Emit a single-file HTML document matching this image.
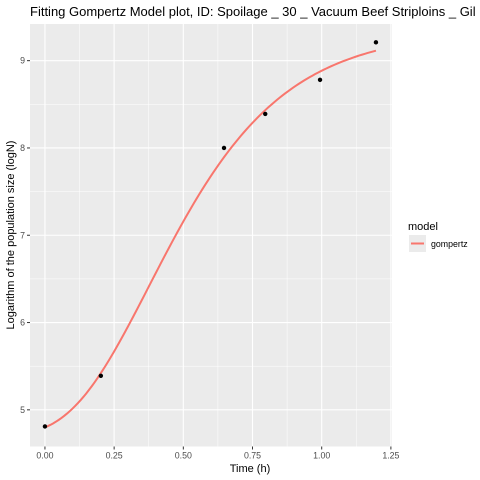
<!DOCTYPE html>
<html><head><meta charset="utf-8"><style>
body{margin:0;background:#fff;}
svg{display:block;font-family:"Liberation Sans",Arial,sans-serif;}
</style></head><body>
<svg id="chart" width="480" height="480">
<text x="30" y="16" font-size="13" fill="#000">Fitting Gompertz Model plot, ID: Spoilage _ 30 _ Vacuum Beef Striploins _ Gil</text>
<rect x="30" y="24" width="362" height="422.5" fill="#ebebeb"/>
<g id="grid"></g>
<g id="curve"></g>
<g id="points"></g>
<g id="axes"></g>
<text x="250" y="472" font-size="11" text-anchor="middle" fill="#000">Time (h)</text>
<text transform="translate(14,235) rotate(-90)" font-size="11" text-anchor="middle" fill="#000">Logarithm of the population size (logN)</text>
<g>
<text x="408" y="230" font-size="11" fill="#000">model</text>
<rect x="409" y="235" width="17" height="17" fill="#ebebeb"/>
<line x1="411" y1="243.5" x2="424" y2="243.5" stroke="#f8766d" stroke-width="2"/>
<text x="431" y="247" font-size="8.8" fill="#000">gompertz</text>
</g>
</svg>
<script>
const obsTime = [0, 0.202, 0.647, 0.796, 0.994, 1.196];
const obsLogN = [4.81, 5.39, 8.0, 8.39, 8.78, 9.21];
const xTicks = [0, 0.25, 0.5, 0.75, 1.0, 1.25];
const xTickLabels = ["0.00", "0.25", "0.50", "0.75", "1.00", "1.25"];
const yTicks = [5, 6, 7, 8, 9];
const yTickLabels = ["5", "6", "7", "8", "9"];
const modelA = 4.7, modelC = 4.65, modelB = 3.6, modelM = 0.375;
const curveT0 = 0, curveT1 = 1.196;

const NS = "http://www.w3.org/2000/svg";
const X0 = 30, X1 = 392, Y0 = 446.5, Y1 = 24;
const xMin = -0.054, xMax = 1.254, yMin = 4.58, yMax = 9.42;
function sx(v){return X0 + (v - xMin) / (xMax - xMin) * (X1 - X0);}
function sy(v){return Y0 - (v - yMin) / (yMax - yMin) * (Y0 - Y1);}
function mk(tag, attrs, parent){const e=document.createElementNS(NS,tag);for(const k in attrs)e.setAttribute(k,attrs[k]);parent.appendChild(e);return e;}
function gomp(t){return modelA + modelC*Math.exp(-Math.exp(-modelB*(t-modelM)));}

const grid = document.getElementById('grid');
for (let i=0;i<xTicks.length-1;i++){
  const m=(xTicks[i]+xTicks[i+1])/2;
  const l=mk('line',{x1:sx(m),x2:sx(m),y1:Y1,y2:Y0,stroke:'#fff','stroke-width':0.5},grid);
  
  
}
for (let i=0;i<yTicks.length-1;i++){
  const m=(yTicks[i]+yTicks[i+1])/2;
  const l=mk('line',{x1:X0,x2:X1,y1:sy(m),y2:sy(m),stroke:'#fff','stroke-width':0.5},grid);
  
  
}
const axes = document.getElementById('axes');
xTicks.forEach((v,i)=>{
  const l=mk('line',{x1:sx(v),x2:sx(v),y1:Y1,y2:Y0,stroke:'#fff','stroke-width':1.1},grid);
  
  
  const t=mk('line',{x1:sx(v),x2:sx(v),y1:Y0,y2:Y0+3,stroke:'#333','stroke-width':1},axes);
  
  
  const tx=mk('text',{x:sx(v),y:Y0+12,'font-size':8.8,'text-anchor':'middle',fill:'#4d4d4d'},axes);
  tx.textContent=xTickLabels[i];
  
  
});
yTicks.forEach((v,i)=>{
  const l=mk('line',{x1:X0,x2:X1,y1:sy(v),y2:sy(v),stroke:'#fff','stroke-width':1.1},grid);
  
  
  const t=mk('line',{x1:X0-3,x2:X0,y1:sy(v),y2:sy(v),stroke:'#333','stroke-width':1},axes);
  
  
  const tx=mk('text',{x:X0-5,y:sy(v)+3,'font-size':8.8,'text-anchor':'end',fill:'#4d4d4d'},axes);
  tx.textContent=yTickLabels[i];
  
  
});
let d='';
for(let k=0;k<=120;k++){const t=curveT0+(curveT1-curveT0)*k/120;d+=(k?'L':'M')+sx(t).toFixed(2)+','+sy(gomp(t)).toFixed(2);}
const path=mk('path',{d:d,fill:'none',stroke:'#f8766d','stroke-width':2},document.getElementById('curve'));


const pg=document.getElementById('points');
obsTime.forEach((t,i)=>{
  const c=mk('circle',{cx:sx(t),cy:sy(obsLogN[i]),r:2.2,fill:'#000'},pg);
  
  
});
</script>
</body></html>
